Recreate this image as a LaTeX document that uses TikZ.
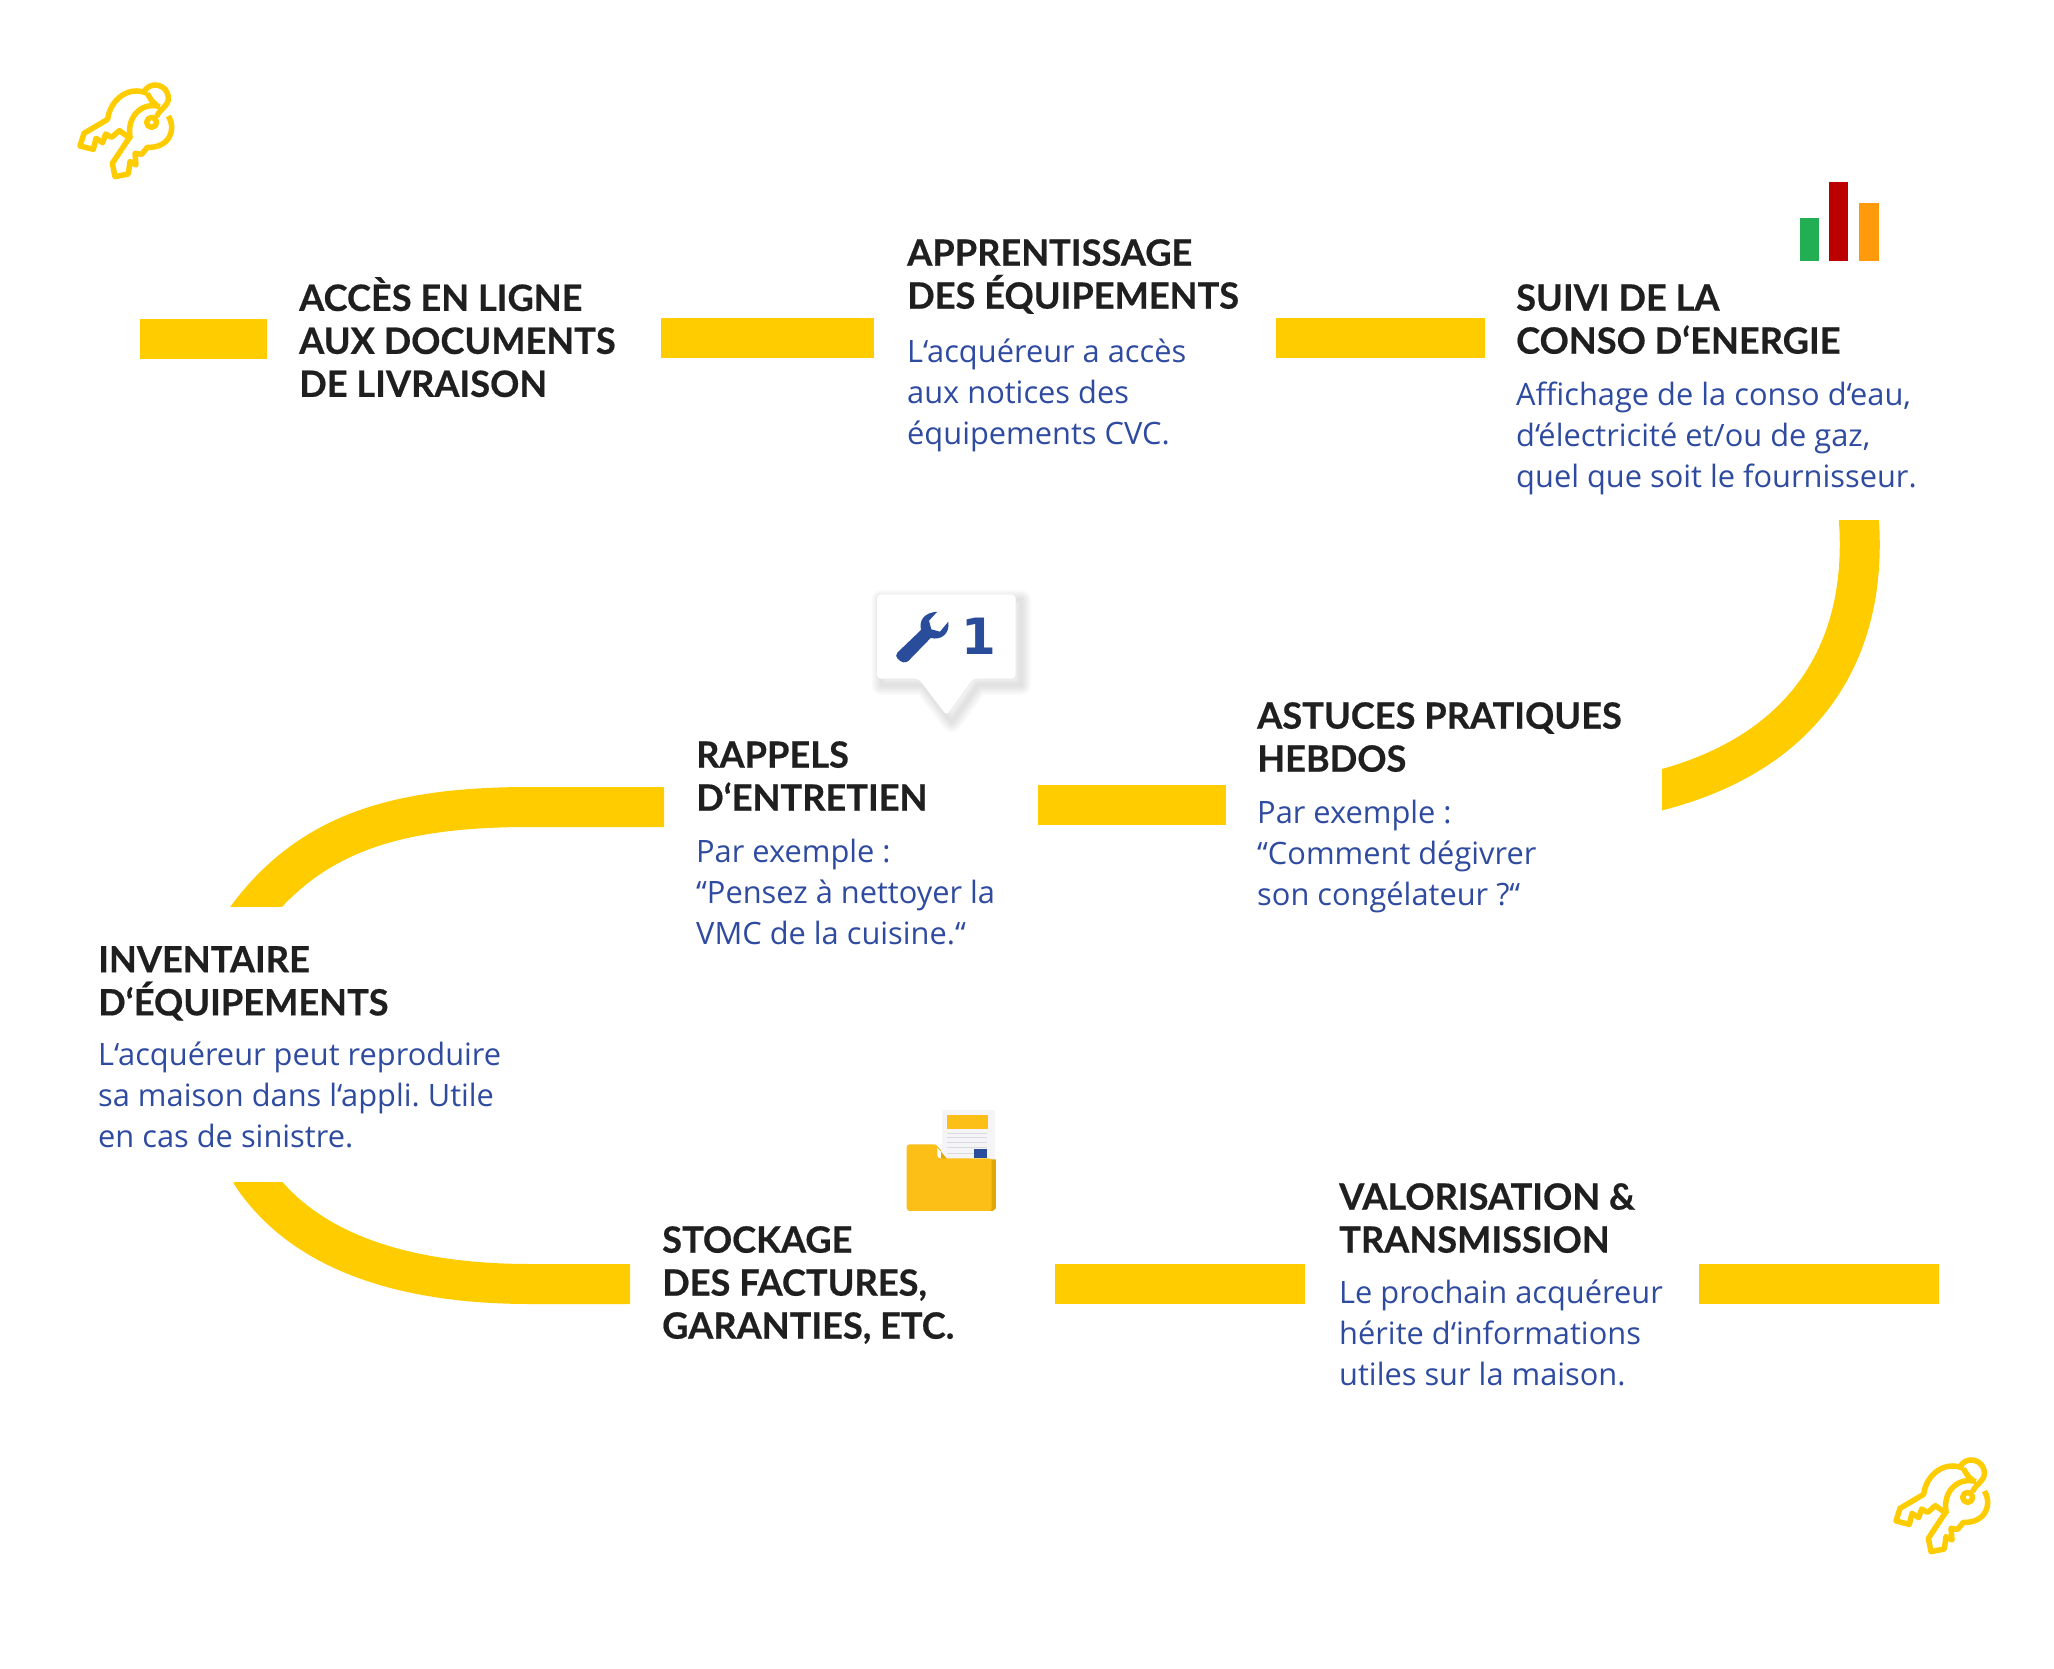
\documentclass[tikz,border=0pt]{standalone}
\usepackage{fontspec}
\setmainfont{Open Sans}
\newfontfamily\headfont[BoldFeatures={FakeBold=0.5}]{Lato}
\newfontfamily\numfont{DejaVu Sans}
\usetikzlibrary{positioning}
\definecolor{bandyellow}{HTML}{FFCC00}
\definecolor{headblack}{HTML}{1F1F1F}
\definecolor{bodyblue}{HTML}{2F4BA0}
\definecolor{wrenchblue}{HTML}{2A4D9B}
\definecolor{folderyellow}{HTML}{FBBF18}
\definecolor{folderdark}{HTML}{DFA806}
\definecolor{sheetgray}{HTML}{F5F5F8}
\definecolor{sheetline}{HTML}{D9D9DF}
\definecolor{bargreen}{HTML}{22AE52}
\definecolor{barred}{HTML}{BC0000}
\definecolor{barorange}{HTML}{FF9A0D}
\tikzset{
  keyicon/.pic = {
    \draw[keyline] (262,100) .. controls (205,75) and (150,120) .. (143,178) -- (72,220) -- (60,258) -- (100,268) -- (108,235) -- (128,248) -- (137,222) -- (155,232) -- (178,212) -- (215,238);
    \draw[keyline] (300,140) .. controls (250,125) and (200,165) .. (210,230) -- (157,310) -- (165,350) -- (205,342) -- (210,305) -- (228,315) -- (225,280) -- (245,283) -- (262,262) .. controls (330,265) and (350,205) .. (325,168);
    \draw[keyline] (275,187) circle (15);
    \draw[keyline] (250,100) .. controls (265,60) and (325,70) .. (325,115) .. controls (325,140) and (300,145) .. (290,170);
    \draw[keyline] (262,100) .. controls (270,115) and (275,125) .. (290,135);
  }
}
\begin{document}
\begin{tikzpicture}[
      x=1pt,y=-1pt,
      band/.style = {draw=bandyellow,line width=40pt},
      head/.style = {anchor=north west,inner sep=0pt,align=left,text=headblack,font=\headfont\bfseries\fontsize{36.2}{43}\selectfont},
      body/.style = {anchor=north west,inner sep=0pt,align=left,text=bodyblue,font=\frenchspacing\fontsize{30.8}{41}\selectfont},
      keyline/.style = {draw=bandyellow,line width=5.5pt,line join=round},
      ]
      \useasboundingbox (0,0) rectangle (2054,1669);

      \node[head] (acces) at (299,277) {ACCÈS EN LIGNE\\AUX DOCUMENTS\\DE LIVRAISON};
      \node[head] (appren) at (907,239) {APPRENTISSAGE\\DES ÉQUIPEMENTS};
      \node[body,below=25pt of appren.south west,anchor=north west] (apprentxt) {L‘acquéreur a accès\\aux notices des\\équipements CVC.};
      \node[head] (suivi) at (1516,284) {SUIVI DE LA\\CONSO D‘ENERGIE};
      \node[body,below=28pt of suivi.south west,anchor=north west] (suivitxt) {Affichage de la conso d‘eau,\\d‘électricité et/ou de gaz,\\quel que soit le fournisseur.};
      \node[head] (astuces) at (1257,702) {ASTUCES PRATIQUES\\HEBDOS};
      \node[body,below=28pt of astuces.south west,anchor=north west] (astucestxt) {Par exemple :\\“Comment dégivrer\\son congélateur ?“};
      \node[head] (rappels) at (696,741) {RAPPELS\\D‘ENTRETIEN};
      \node[body,below=28pt of rappels.south west,anchor=north west] (rappelstxt) {Par exemple :\\“Pensez à nettoyer la\\VMC de la cuisine.“};
      \node[head] (invent) at (98,946) {INVENTAIRE\\D‘ÉQUIPEMENTS};
      \node[body,below=21pt of invent.south west,anchor=north west] (inventtxt) {L‘acquéreur peut reproduire\\sa maison dans l‘appli. Utile\\en cas de sinistre.};
      \node[head] (stock) at (662,1226) {STOCKAGE\\DES FACTURES,\\GARANTIES, ETC.};
      \node[head] (valor) at (1339,1183) {VALORISATION \&\\TRANSMISSION};
      \node[body,below=27pt of valor.south west,anchor=north west] (valortxt) {Le prochain acquéreur\\hérite d‘informations\\utiles sur la maison.};

      \coordinate (b1a) at (140,339);
      \coordinate (b1b) at (267,339);
      \coordinate (b2a) at (661,338);
      \coordinate (b2b) at (874,338);
      \coordinate (b3a) at (1276,338);
      \coordinate (b3b) at (1485,338);
      \coordinate (c1a) at (1857,500);
      \coordinate (c1b) at (1640,795);
      \coordinate (b4a) at (1038,805);
      \coordinate (b4b) at (1226,805);
      \coordinate (c2a) at (664,807);
      \coordinate (c2b) at (235,935);
      \coordinate (c3a) at (630,1284);
      \coordinate (c3b) at (250,1172);
      \coordinate (b5a) at (1055,1284);
      \coordinate (b5b) at (1305,1284);
      \coordinate (b6a) at (1699,1284);
      \coordinate (b6b) at (1939,1284);

      \draw[band] (b1a) -- (b1b);
      \draw[band] (b2a) -- (b2b);
      \draw[band] (b3a) -- (b3b);
      \begin{scope}
        \clip (1662,520) rectangle (1900,830);
        \draw[band] (c1a) .. controls (1875,650) and (1805,760) .. (c1b);
      \end{scope}
      \draw[band] (b4a) -- (b4b);
      \begin{scope}
        \clip (200,780) rectangle (700,906);
        \draw[band] (c2a) -- (530,807) .. controls (390,807) and (300,835) .. (c2b);
      \end{scope}
      \begin{scope}
        \clip (200,1182) rectangle (700,1320);
        \draw[band] (c3a) -- (530,1284) .. controls (400,1284) and (300,1250) .. (c3b);
      \end{scope}
      \draw[band] (b5a) -- (b5b);
      \draw[band] (b6a) -- (b6b);

      \begin{scope}[shift={(60,60)},x=.3333pt,y=-.3333pt]
        \pic {keyicon};
      \end{scope}
      \begin{scope}[shift={(1876,1435)},x=.3333pt,y=-.3333pt]
        \pic {keyicon};
      \end{scope}

      \begin{scope}[shift={(1780,170)},x=.3333pt,y=-.3333pt]
        \fill[bargreen] (60,145) rectangle (118,272);
        \fill[barred] (148,36) rectangle (205,272);
        \fill[barorange] (238,100) rectangle (296,272);
      \end{scope}

      \begin{scope}[shift={(860,580)},x=.3333pt,y=-.3333pt]
        \foreach \w in {20,16,12,8,4}
          \draw[black,opacity=.025,line width=\w pt,line join=round,xshift=5pt,yshift=-6pt] (50,42) -- (468,42) -- (468,297) -- (340,297) -- (260,408) -- (175,297) -- (50,297) -- cycle;
        \draw[draw=black!10,fill=white,line width=.5pt,rounded corners=4pt] (50,42) -- (468,42) -- (468,297) -- (340,297) -- (260,408) -- (175,297) -- (50,297) -- cycle;
        \fill[wrenchblue] (112,218) -- (183,150) .. controls (176,118) and (195,98) .. (232,95) -- (207,122) -- (214,148) -- (240,155) -- (265,125) .. controls (270,160) and (245,182) .. (212,174) -- (145,243) .. controls (135,250) and (125,248) .. (115,238) .. controls (107,230) and (107,224) .. (112,218) -- cycle;
        \node[inner sep=0pt,text=wrenchblue,font=\numfont\bfseries\fontsize{50}{50}\selectfont] (wrenchnum) at (358,170) {1};
      \end{scope}

      \begin{scope}[shift={(890,1100)},x=.3333pt,y=-.3333pt]
        \fill[sheetgray] (155,30) rectangle (315,230);
        \fill[folderyellow] (170,45) rectangle (295,87);
        \foreach \ly in {100,113,128,143,160}
          \draw[sheetline,line width=.8pt] (172,\ly) -- (290,\ly);
        \fill[wrenchblue] (252,148) rectangle (290,175);
        \fill[folderdark] (135,133) -- (153,150) -- (153,178) -- (318,178) -- (318,325) -- (308,333) -- (300,333) -- cycle;
        \fill[folderyellow,rounded corners=3pt] (50,133) -- (142,133) -- (142,175) -- (305,175) -- (305,333) -- (50,333) -- cycle;
      \end{scope}
    \end{tikzpicture}
\end{document}
